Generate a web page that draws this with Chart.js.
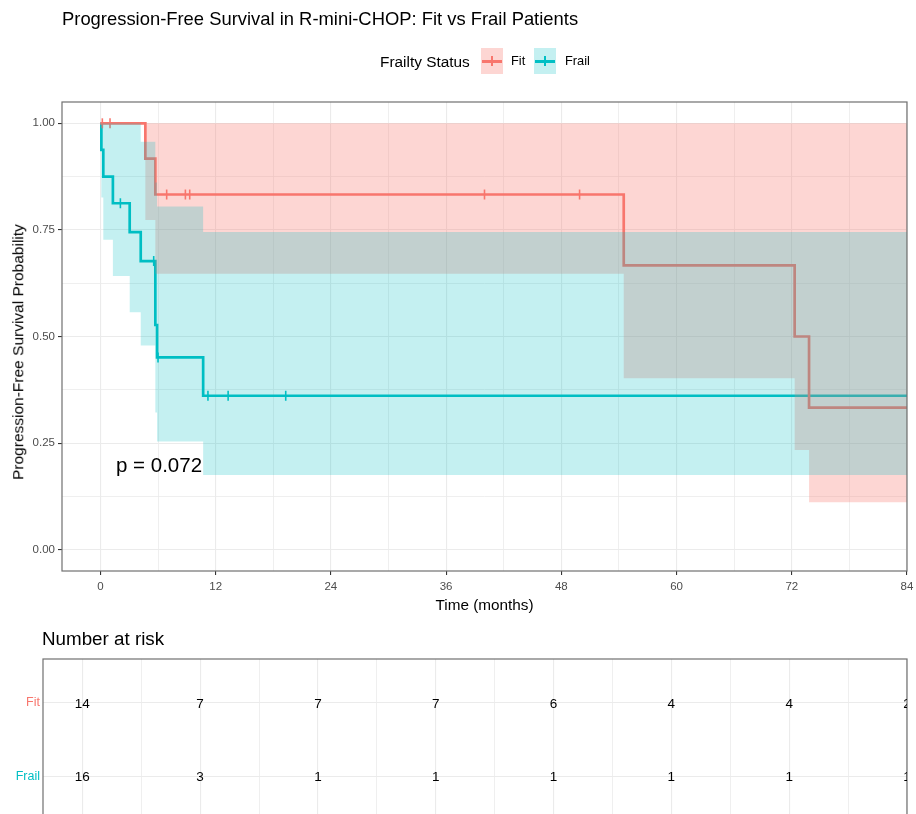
<!DOCTYPE html>
<html>
<head>
<meta charset="utf-8">
<script src="https://cdn.jsdelivr.net/npm/chart.js@4.4.1/dist/chart.umd.min.js"></script>
<style>
  html, body { margin: 0; padding: 0; width: 916px; height: 814px; overflow: hidden; background: #fff;
    font-family: "Liberation Sans", Arial, Helvetica, sans-serif; }
  .txt { position: absolute; white-space: nowrap; line-height: 1; color: #000; }
  canvas { position: absolute; left: 0; }
  #main { top: 0; }
  #risk { top: 620px; }
  .key { position: absolute; width: 22px; height: 26px; }
  .key .h { position: absolute; left: 1px; right: 1px; top: 12px; height: 2.5px; }
  .key .v { position: absolute; left: 10.3px; width: 1.5px; top: 8px; height: 10px; }
  #ytitle { left: 18px; top: 352px; font-size: 15.5px; transform: translate(-50%, -50%) rotate(-90deg); }
</style>
</head>
<body>
<canvas id="main" width="916" height="620"></canvas>
<canvas id="risk" width="916" height="211"></canvas>

<div class="txt" style="left:62px;top:9.5px;font-size:18.4px;">Progression-Free Survival in R-mini-CHOP: Fit vs Frail Patients</div>

<div class="txt" style="left:380px;top:54px;font-size:15.4px;">Frailty Status</div>
<div class="key" style="left:481px;top:48px;background:rgba(248,118,109,0.3);"><div class="h" style="background:#F8766D;"></div><div class="v" style="background:#F8766D;"></div></div>
<div class="txt" style="left:511px;top:55px;font-size:12.8px;">Fit</div>
<div class="key" style="left:534px;top:48px;background:rgba(0,191,196,0.23);"><div class="h" style="background:#00BFC4;"></div><div class="v" style="background:#00BFC4;"></div></div>
<div class="txt" style="left:565px;top:55px;font-size:12.8px;">Frail</div>

<div class="txt" id="ytitle">Progression-Free Survival Probability</div>
<div class="txt" style="left:116px;top:455px;font-size:20.5px;">p = 0.072</div>
<div class="txt" style="left:42px;top:630px;font-size:18.8px;">Number at risk</div>

<script>
// Kaplan-Meier estimates, months
const fitTimes  = [0, 4.68, 5.72, 54.5, 72.3, 73.8, 84];
const fitSurv   = [1, 0.917, 0.833, 0.667, 0.5, 0.333, 0.333];
const fitLower  = [1, 0.773, 0.647, 0.402, 0.234, 0.111, 0.111];
const fitUpper  = [1, 1, 1, 1, 1, 1, 1];

const frailTimes = [0, 0.1, 0.3, 1.3, 3.05, 4.2, 5.72, 5.9, 10.7, 84];
const frailSurv  = [1, 0.9375, 0.875, 0.8125, 0.745, 0.677, 0.527, 0.451, 0.361, 0.361];
const frailLower = [1, 0.826, 0.727, 0.642, 0.557, 0.479, 0.322, 0.254, 0.175, 0.175];
const frailUpper = [1, 1, 1, 1, 1, 0.957, 0.861, 0.805, 0.745, 0.745];

// censoring marks
const fitCensorTimes   = [0.2, 1.0, 6.9, 8.85, 9.3, 40, 49.9];
const fitCensorSurv    = [1, 1, 0.833, 0.833, 0.833, 0.833, 0.833];
const frailCensorTimes = [2.08, 5.55, 6.0, 11.2, 13.3, 19.3];
const frailCensorSurv  = [0.8125, 0.677, 0.451, 0.361, 0.361, 0.361];

// number at risk table
const riskTimes  = [0, 12, 24, 36, 48, 60, 72, 84];
const riskFit    = [14, 7, 7, 7, 6, 4, 4, 2];
const riskFrail  = [16, 3, 1, 1, 1, 1, 1, 1];
const riskGroups = ['Fit', 'Frail'];

// axis ticks
const xMajorTicks  = [0, 12, 24, 36, 48, 60, 72, 84];
const xMinorTicks  = [6, 18, 30, 42, 54, 66, 78];
const yMajorTicks  = [0, 0.25, 0.5, 0.75, 1];
const yTickLabels  = ['0.00', '0.25', '0.50', '0.75', '1.00'];
const yMinorTicks  = [0.125, 0.375, 0.625, 0.875];

const FIT_COL = '#F8766D';
const FRAIL_COL = '#00BFC4';
const FONT = '"Liberation Sans", Arial, Helvetica, sans-serif';
Chart.defaults.font.family = FONT;

const pts = (xs, ys) => xs.map((x, i) => ({ x: x, y: ys[i] }));
const isMajor = (list, v) => list.some(m => Math.abs(m - v) < 1e-9);
const allX = xMajorTicks.concat(xMinorTicks).sort((a, b) => a - b);
const allY = yMajorTicks.concat(yMinorTicks).sort((a, b) => a - b);

const panelBorder = {
  id: 'panelBorder',
  afterDatasetsDraw(chart, args, opts) {
    const { ctx, chartArea: a } = chart;
    ctx.save();
    ctx.strokeStyle = opts.color || '#7a7a7a';
    ctx.lineWidth = opts.width || 1.2;
    ctx.strokeRect(a.left, a.top, a.right - a.left, a.bottom - a.top);
    ctx.restore();
  }
};

const bandStyle = (fillColor, order) => ({
  stepped: 'before', borderWidth: 0, pointRadius: 0, borderColor: 'rgba(0,0,0,0)',
  backgroundColor: fillColor, order: order
});

new Chart(document.getElementById('main'), {
  type: 'line',
  data: {
    datasets: [
      Object.assign({ label: 'Fit upper', data: pts(fitTimes, fitUpper), fill: '+1' }, bandStyle('rgba(248,118,109,0.3)', 5)),
      Object.assign({ label: 'Fit lower', data: pts(fitTimes, fitLower), fill: false }, bandStyle('rgba(248,118,109,0.3)', 5)),
      Object.assign({ label: 'Frail upper', data: pts(frailTimes, frailUpper), fill: '+1' }, bandStyle('rgba(0,191,196,0.23)', 3)),
      Object.assign({ label: 'Frail lower', data: pts(frailTimes, frailLower), fill: false }, bandStyle('rgba(0,191,196,0.23)', 3)),
      { label: 'Fit', data: pts(fitTimes, fitSurv), stepped: 'before', borderColor: FIT_COL, borderWidth: 2.7,
        pointRadius: 0, fill: false, order: 8 },
      { label: 'Frail', data: pts(frailTimes, frailSurv), stepped: 'before', borderColor: FRAIL_COL, borderWidth: 2.7,
        pointRadius: 0, fill: false, order: 8 },
      { label: 'Fit censored', data: pts(fitCensorTimes, fitCensorSurv), showLine: false, pointStyle: 'line',
        rotation: 90, pointRadius: 5, pointBorderWidth: 1.6, pointBorderColor: FIT_COL, borderColor: FIT_COL, order: 7 },
      { label: 'Frail censored', data: pts(frailCensorTimes, frailCensorSurv), showLine: false, pointStyle: 'line',
        rotation: 90, pointRadius: 5, pointBorderWidth: 1.6, pointBorderColor: FRAIL_COL, borderColor: FRAIL_COL, order: 7 }
    ]
  },
  options: {
    responsive: false,
    animation: false,
    events: [],
    layout: { padding: { top: 102, right: 9, left: 0, bottom: 0 } },
    plugins: { legend: { display: false }, tooltip: { enabled: false }, panelBorder: { color: '#707070', width: 1.2 } },
    scales: {
      x: {
        type: 'linear', min: -4, max: 84,
        afterBuildTicks: s => { s.ticks = allX.map(v => ({ value: v })); },
        afterFit: s => { s.height = 49; s.paddingLeft = 0; s.paddingRight = 0; },
        ticks: { autoSkip: false, maxRotation: 0, padding: 5, color: '#4D4D4D', font: { size: 11.5 },
          callback: v => isMajor(xMajorTicks, v) ? String(v) : '' },
        grid: { color: '#EBEBEB', lineWidth: c => (c.tick && isMajor(xMajorTicks, c.tick.value)) ? 1.1 : 0.8,
          tickLength: 4, tickWidth: 1.1,
          tickColor: c => (c.tick && isMajor(xMajorTicks, c.tick.value)) ? '#333333' : 'rgba(0,0,0,0)' },
        border: { display: false },
        title: { display: true, text: 'Time (months)', color: '#000', font: { size: 15.3 }, padding: { top: 0, bottom: 5.5 } }
      },
      y: {
        type: 'linear', min: -0.05, max: 1.05,
        afterBuildTicks: s => { s.ticks = allY.map(v => ({ value: v })); },
        afterFit: s => { s.width = 62; s.paddingTop = 0; s.paddingBottom = 0; },
        ticks: { autoSkip: false, padding: 3, color: '#4D4D4D', font: { size: 11.5 },
          callback: v => { const i = yMajorTicks.findIndex(m => Math.abs(m - v) < 1e-9); return i >= 0 ? yTickLabels[i] : ''; } },
        grid: { color: '#EBEBEB', lineWidth: c => (c.tick && isMajor(yMajorTicks, c.tick.value)) ? 1.1 : 0.8,
          tickLength: 4, tickWidth: 1.1,
          tickColor: c => (c.tick && isMajor(yMajorTicks, c.tick.value)) ? '#333333' : 'rgba(0,0,0,0)' },
        border: { display: false }
      }
    }
  },
  plugins: [panelBorder]
});

// numbers at risk written at each time point
const riskText = {
  id: 'riskText',
  afterDatasetsDraw(chart) {
    const { ctx, chartArea: a } = chart;
    ctx.save();
    ctx.beginPath();
    ctx.rect(a.left, a.top, a.right - a.left, a.bottom - a.top);
    ctx.clip();
    ctx.fillStyle = '#000';
    ctx.font = '13.5px ' + FONT;
    ctx.textAlign = 'center';
    ctx.textBaseline = 'middle';
    chart.data.datasets.forEach((ds, di) => {
      chart.getDatasetMeta(di).data.forEach((p, i) => {
        ctx.fillText(String(ds.data[i].n), p.x, p.y + 1);
      });
    });
    ctx.restore();
  }
};

new Chart(document.getElementById('risk'), {
  type: 'scatter',
  data: {
    datasets: [
      { label: 'Fit', data: riskTimes.map((t, i) => ({ x: t, y: 1, n: riskFit[i] })), pointRadius: 0 },
      { label: 'Frail', data: riskTimes.map((t, i) => ({ x: t, y: 2, n: riskFrail[i] })), pointRadius: 0 }
    ]
  },
  options: {
    responsive: false,
    animation: false,
    events: [],
    layout: { padding: { top: 39, right: 9, left: 0, bottom: 0 } },
    plugins: { legend: { display: false }, tooltip: { enabled: false }, panelBorder: { color: '#707070', width: 1.2 } },
    scales: {
      x: {
        type: 'linear', min: -4, max: 84,
        afterBuildTicks: s => { s.ticks = allX.map(v => ({ value: v })); },
        afterFit: s => { s.height = 0; s.paddingLeft = 0; s.paddingRight = 0; },
        ticks: { display: false },
        grid: { color: '#EBEBEB', lineWidth: c => (c.tick && isMajor(xMajorTicks, c.tick.value)) ? 1.1 : 0.8, drawTicks: false },
        border: { display: false }
      },
      y: {
        type: 'linear', min: 0.4, max: 2.6, reverse: true,
        afterBuildTicks: s => { s.ticks = [1, 2].map(v => ({ value: v })); },
        afterFit: s => { s.width = 43; },
        ticks: { autoSkip: false, padding: 3, font: { size: 12.5 },
          color: c => c.index === 0 ? FIT_COL : FRAIL_COL,
          callback: v => riskGroups[v - 1] },
        grid: { color: '#EBEBEB', lineWidth: 1.1, drawTicks: false },
        border: { display: false }
      }
    }
  },
  plugins: [panelBorder, riskText]
});
</script>
</body>
</html>
